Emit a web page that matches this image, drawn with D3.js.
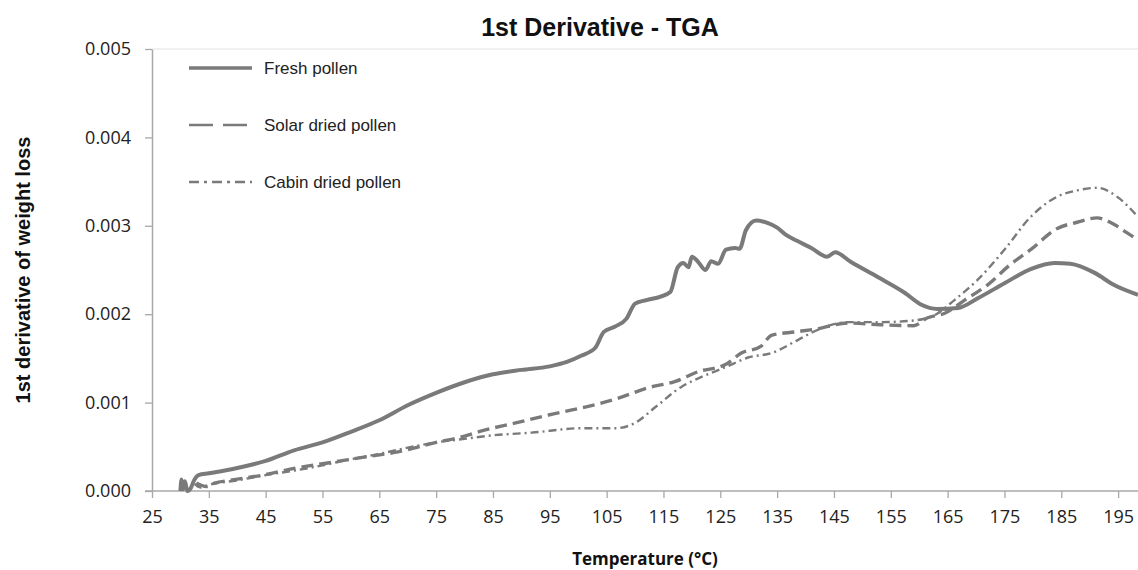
<!DOCTYPE html>
<html>
<head>
<meta charset="utf-8">
<script src="https://cdn.jsdelivr.net/npm/d3@7"></script>
<style>
    html, body { margin: 0; padding: 0; background: #fff; }
    svg { display: block; }
</style>
</head>
<body>
<svg id="chart"></svg>
<script>
// values: [temperature °C, 1st derivative]
const freshPollen = [
    [30.0, 0.0], [30.2, 0.00013], [30.5, 0.00002], [30.8, 0.00011], [31.2, 0.0],
    [31.8, 0.00003], [32.4, 0.00012], [33.2, 0.00018], [35, 0.0002], [40, 0.00026],
    [45, 0.00034], [50, 0.00046], [55, 0.00055], [60, 0.00067], [65, 0.0008],
    [70, 0.00097], [75, 0.00111], [80, 0.00123], [85, 0.00132], [90, 0.00137],
    [95, 0.00141], [98, 0.00146], [100.5, 0.00153], [103, 0.00162], [104.5, 0.0018],
    [106.5, 0.00186], [108.5, 0.00195], [110, 0.00212], [112, 0.00216], [114.5, 0.0022],
    [116.2, 0.00225], [117.5, 0.00253], [118.5, 0.00258], [119.4, 0.00253], [120, 0.00265],
    [121, 0.0026], [122.4, 0.0025], [123.4, 0.0026], [124.6, 0.00257], [126, 0.00273],
    [127.6, 0.00275], [128.4, 0.00274], [129.5, 0.00295], [131.3, 0.00306], [133.4, 0.00303],
    [135, 0.00298], [136.5, 0.0029], [138.5, 0.00283], [141, 0.00275], [143.8, 0.00265],
    [145.2, 0.0027], [148, 0.00259], [152.7, 0.00242], [157.5, 0.00224], [160.3, 0.00211],
    [163.2, 0.00206], [166.8, 0.00207], [170.3, 0.00218], [175, 0.00235], [179.6, 0.00251],
    [183.8, 0.00258], [186.6, 0.00257], [190.8, 0.00247], [194.3, 0.00233], [198.5, 0.00222]
]

const solarDriedPollen = [
    [32.8, 0.00009], [34.6, 0.00005], [36, 0.00009], [38.7, 0.00012], [44.5, 0.00018],
    [50.4, 0.00026], [56.2, 0.00032], [62, 0.00038], [68, 0.00044], [75, 0.00055],
    [80, 0.00062], [83, 0.00068], [89, 0.00077], [94.8, 0.00086], [100.6, 0.00094],
    [106.6, 0.00104], [112.4, 0.00117], [117.1, 0.00124], [121.1, 0.00135], [125.9, 0.00143],
    [128.7, 0.00156], [132.2, 0.00164], [134, 0.00176], [138.2, 0.0018], [141.7, 0.00183],
    [147.5, 0.0019], [153.2, 0.00188], [159, 0.00187], [161.5, 0.00196], [164.5, 0.00201],
    [168, 0.00216], [172, 0.00233], [176, 0.00256], [179.6, 0.00273], [184.3, 0.00297],
    [187.8, 0.00304], [191.3, 0.00309], [193.6, 0.00304], [196.6, 0.00292], [198.5, 0.00284]
]

const cabinDriedPollen = [
    [32.5, 0.00008], [33.5, 0.00004], [35, 0.00007], [40, 0.00012], [45, 0.00018],
    [50, 0.00023], [55, 0.00029], [60, 0.00036], [65, 0.00042], [70, 0.00049],
    [75, 0.00055], [80, 0.00059], [85, 0.00063], [91.8, 0.00066], [100.6, 0.00071],
    [106.6, 0.00071], [110, 0.00077], [113.6, 0.00095], [118.2, 0.00118], [121.7, 0.00129],
    [125.9, 0.0014], [129.9, 0.00151], [134, 0.00156], [138.7, 0.00171], [141.7, 0.00181],
    [147.5, 0.00191], [153.2, 0.00191], [159.2, 0.00193], [163, 0.002], [166.2, 0.00216],
    [170.3, 0.00239], [175, 0.00273], [179.6, 0.0031], [184.3, 0.00333], [187.8, 0.0034],
    [191.3, 0.00343], [194.8, 0.00333], [198.5, 0.0031]
]

const seriesNames = ['Fresh pollen', 'Solar dried pollen', 'Cabin dried pollen']
const xTicks = d3.range(25, 196, 10)
const yTicks = [0, 0.001, 0.002, 0.003, 0.004, 0.005]

const width = 1138
const height = 570
const margin = { top: 49, right: 0, bottom: 79, left: 152 }
const lineColor = '#7a7a7a'

const svg = d3.select('#chart').attr('width', width).attr('height', height)

const x = d3.scaleLinear().domain([25, 198.5]).range([margin.left, width - margin.right])
const y = d3.scaleLinear().domain([0, 0.005]).range([height - margin.bottom, margin.top])

// faint top border of the plot area
svg.append('line')
    .attr('x1', margin.left).attr('x2', width)
    .attr('y1', y(0.005)).attr('y2', y(0.005))
    .attr('stroke', '#e2e2e2').attr('stroke-width', 1)

// axes
const xAxis = svg.append('g')
    .attr('transform', `translate(0,${y(0)})`)
    .call(d3.axisBottom(x).tickValues(xTicks).tickSize(7).tickPadding(9).tickSizeOuter(0))
const yAxis = svg.append('g')
    .attr('transform', `translate(${x(25)},0)`)
    .call(d3.axisLeft(y).tickValues(yTicks).tickFormat(d3.format('.3f')).tickSize(7).tickPadding(14).tickSizeOuter(0))

;[xAxis, yAxis].forEach(axis => {
    axis.select('.domain').attr('stroke', '#a8a8a8').attr('stroke-width', 1.5)
    axis.selectAll('.tick line').attr('stroke', '#a8a8a8').attr('stroke-width', 1.3)
    axis.selectAll('.tick text')
        .attr('fill', '#222')
        .style('font-family', '"Open Sans", sans-serif')
        .style('font-size', '18px')
})
// stretch the x axis line out to the left like the original
xAxis.select('.domain').attr('d', `M${x(25) - 7},0H${width}`)
xAxis.selectAll('.tick text').attr('dy', '0.9em')

// series lines
const line = d3.line()
    .x(d => x(d[0]))
    .y(d => y(d[1]))
    .curve(d3.curveMonotoneX)

const styles = [
    { width: 4, dash: null, legendDash: null },
    { width: 3.4, dash: '12,6', legendDash: '24,10' },
    { width: 2.4, dash: '8,4,2,4', legendDash: '10,5,3,5' }
]

const plot = svg.append('g')
;[freshPollen, solarDriedPollen, cabinDriedPollen].forEach((data, i) => {
    plot.append('path')
        .datum(data)
        .attr('d', line)
        .attr('fill', 'none')
        .attr('stroke', lineColor)
        .attr('stroke-width', styles[i].width)
        .attr('stroke-dasharray', styles[i].dash)
        .attr('stroke-linejoin', 'round')
})

// legend
const legend = svg.append('g')
seriesNames.forEach((name, i) => {
    const ly = 68 + i * 57
    legend.append('line')
        .attr('x1', 189).attr('x2', 252)
        .attr('y1', ly).attr('y2', ly)
        .attr('stroke', lineColor)
        .attr('stroke-width', i === 0 ? 3.6 : 2.4)
        .attr('stroke-dasharray', styles[i].legendDash)
    legend.append('text')
        .attr('x', 264).attr('y', ly + 6)
        .attr('fill', '#222')
        .style('font-family', '"Liberation Sans", Arial, sans-serif')
        .style('font-size', '17px')
        .text(name)
})

// titles
svg.append('text')
    .attr('x', 600).attr('y', 36)
    .attr('text-anchor', 'middle')
    .attr('fill', '#111')
    .style('font-family', '"Liberation Sans", Arial, sans-serif')
    .style('font-size', '25px')
    .style('font-weight', 'bold')
    .text('1st Derivative - TGA')

svg.append('text')
    .attr('x', 645).attr('y', 565)
    .attr('text-anchor', 'middle')
    .attr('fill', '#111')
    .style('font-family', '"Open Sans", sans-serif')
    .style('font-size', '17px')
    .style('font-weight', 'bold')
    .text('Temperature (°C)')

svg.append('text')
    .attr('transform', `translate(30,${(y(0) + y(0.005)) / 2}) rotate(-90)`)
    .attr('text-anchor', 'middle')
    .attr('fill', '#111')
    .style('font-family', '"Liberation Sans", Arial, sans-serif')
    .style('font-size', '20px')
    .style('font-weight', 'bold')
    .text('1st derivative of weight loss')
</script>
</body>
</html>
